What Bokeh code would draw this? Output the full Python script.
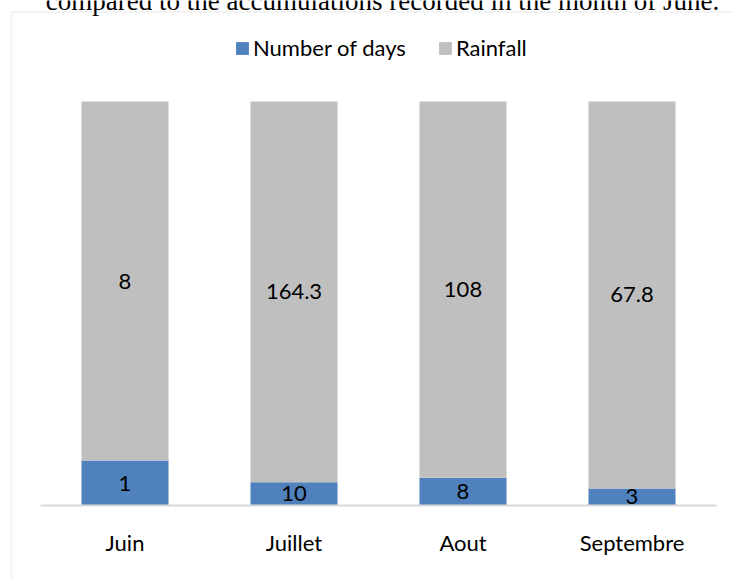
from bokeh.plotting import figure
from bokeh.models import Range1d, ColumnDataSource, Legend, LegendItem, Label, BoxAnnotation
from bokeh.core.properties import value
from bokeh.embed import file_html
from bokeh.resources import INLINE

# ---- data ----
months = ["Juin", "Juillet", "Aout", "Septembre"]
days = [1, 10, 8, 3]
rainfall = [8, 164.3, 108, 67.8]
series_names = ["Number of days", "Rainfall"]
title_text = "compared to the accumulations recorded in the month of June."

# ---- derived (100% stacked) ----
totals = [d + r for d, r in zip(days, rainfall)]
share_days = [d / t for d, t in zip(days, totals)]
share_rain = [r / t for r, t in zip(rainfall, totals)]
xs = list(range(len(months)))

src = ColumnDataSource(dict(
    x=xs, month=months,
    days=share_days, rain=share_rain,
    days_lbl=[str(v) for v in days],
    rain_lbl=[str(v) for v in rainfall],
    days_mid=[s / 2 for s in share_days],
    rain_mid=[d + r / 2 for d, r in zip(share_days, share_rain)],
    zero=[0] * len(months),
))

W, H = 732, 579
p = figure(width=W, height=H, output_backend="svg", toolbar_location=None,
           x_range=Range1d(-0.7367, 3.5947), y_range=Range1d(-74 / 404, 505 / 404),
           x_axis_type=None, y_axis_type=None, min_border=0)
p.outline_line_color = None
p.grid.visible = False
p.background_fill_color = "white"

FONT = "Lato"
BLUE = "#4f81bd"
GRAY = "#bfbfbf"

# chart border (top + left visible)
p.add_layout(BoxAnnotation(left=-0.7367 + 11 / 169, right=10, top=1.25 - 11.5 / 404, bottom=-5,
                           fill_color=None, fill_alpha=0, line_color="#d9d9d9", line_width=2))

r = p.vbar_stack(["days", "rain"], x="x", width=0.515, color=[BLUE, GRAY], source=src,
                 line_color=None)

# axis line
p.segment(x0=-0.5, x1=len(months) - 0.5, y0=0, y1=0, line_color="#d9d9d9", line_width=2)

# value labels
p.text(x="x", y="days_mid", text="days_lbl", source=src, text_align="center",
       text_baseline="middle", text_font=value(FONT), text_font_size="22px", text_color="black")
p.text(x="x", y="rain_mid", text="rain_lbl", source=src, text_align="center",
       text_baseline="middle", text_font=value(FONT), text_font_size="22px", text_color="black")

# category labels
p.text(x="x", y="zero", text="month", source=src, text_align="center", y_offset=37,
       text_baseline="middle", text_font=value(FONT), text_font_size="22px", text_color="black")

legend = Legend(items=[LegendItem(label=series_names[0], renderers=[r[0]]),
                       LegendItem(label=series_names[1], renderers=[r[1]])],
                orientation="horizontal", location=(234, 518),
                glyph_width=16, glyph_height=16, label_standoff=3, spacing=31,
                padding=0, margin=0, border_line_color=None, background_fill_alpha=0,
                label_text_font=FONT, label_text_font_size="22px", label_text_color="black")
p.add_layout(legend)

p.add_layout(Label(x=382, y=H, x_units="screen", y_units="screen", text=title_text,
                   text_align="center", text_baseline="alphabetic",
                   text_font="Liberation Serif", text_font_size="27px", text_color="black"))

open("out.html", "w").write(file_html(p, INLINE))
